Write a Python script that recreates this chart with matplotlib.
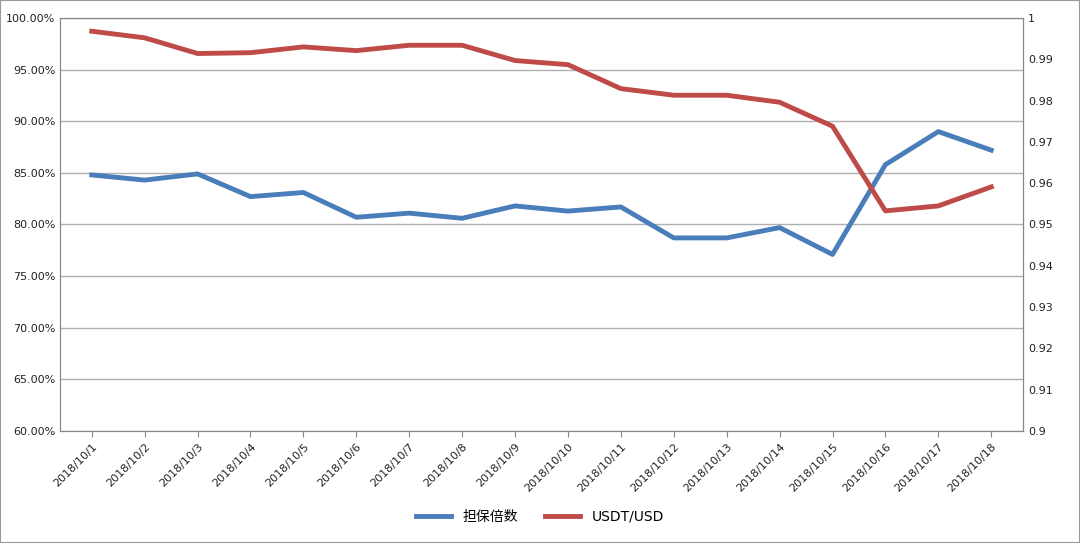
import matplotlib.pyplot as plt
from matplotlib.ticker import FuncFormatter

dates = ['2018/10/%d' % d for d in range(1, 19)]
collateral = [84.8, 84.3, 84.9, 82.7, 83.1, 80.7, 81.1, 80.6, 81.8, 81.3, 81.7,
              78.7, 78.7, 79.7, 77.1, 85.8, 89.0, 87.2]
usdt = [0.9968, 0.9952, 0.9914, 0.9916, 0.9930, 0.9921, 0.9934, 0.9934, 0.9897,
        0.9887, 0.9829, 0.9813, 0.9813, 0.9796, 0.9738, 0.9533, 0.9545, 0.9591]

plt.rcParams['font.family'] = ['DejaVu Sans', 'Noto Sans CJK SC']
fig = plt.figure(figsize=(10.8, 5.43), dpi=100)
ax = fig.add_axes([60 / 1080, 112 / 543, 963 / 1080, 413 / 543])
ax2 = ax.twinx()
x = range(len(dates))
l1, = ax.plot(x, collateral, color='#4a7ebb', lw=3.5, label='担保倍数')
l2, = ax2.plot(x, usdt, color='#be4b48', lw=3.5, label='USDT/USD')
ax.set_ylim(60, 100)
ax.set_yticks(range(60, 101, 5))
ax.yaxis.set_major_formatter(FuncFormatter(lambda v, p: '%.2f%%' % v))
ax2.set_ylim(0.9, 1.0)
ax2.set_yticks([0.9 + i * 0.01 for i in range(11)])
ax2.yaxis.set_major_formatter(FuncFormatter(lambda v, p: '%g' % round(v, 2)))
ax.set_xlim(-0.6, len(dates) - 0.4)
ax.set_xticks(list(x))
ax.set_xticklabels(dates, rotation=45, ha='right', rotation_mode='anchor', fontsize=8)
ax.grid(axis='y', color='#b0b0b0', lw=1)
ax.set_axisbelow(True)
for a in (ax, ax2):
    a.tick_params(labelsize=8, length=0, colors='#222222')
    for s in a.spines.values():
        s.set_color('#888888')
ax.tick_params(axis='x', length=4, color='#888888')
fig.legend([l1, l2], ['担保倍数', 'USDT/USD'], loc='center', bbox_to_anchor=(0.5, 517 / 543 * 0 + 26 / 543),
           ncol=2, frameon=False, fontsize=10, handlelength=2.5)
fig.patches.append(plt.Rectangle((0, 0), 1, 1, transform=fig.transFigure, fill=False,
                                 edgecolor='#999999', lw=1.5))
fig.savefig('out.png', dpi=100)
